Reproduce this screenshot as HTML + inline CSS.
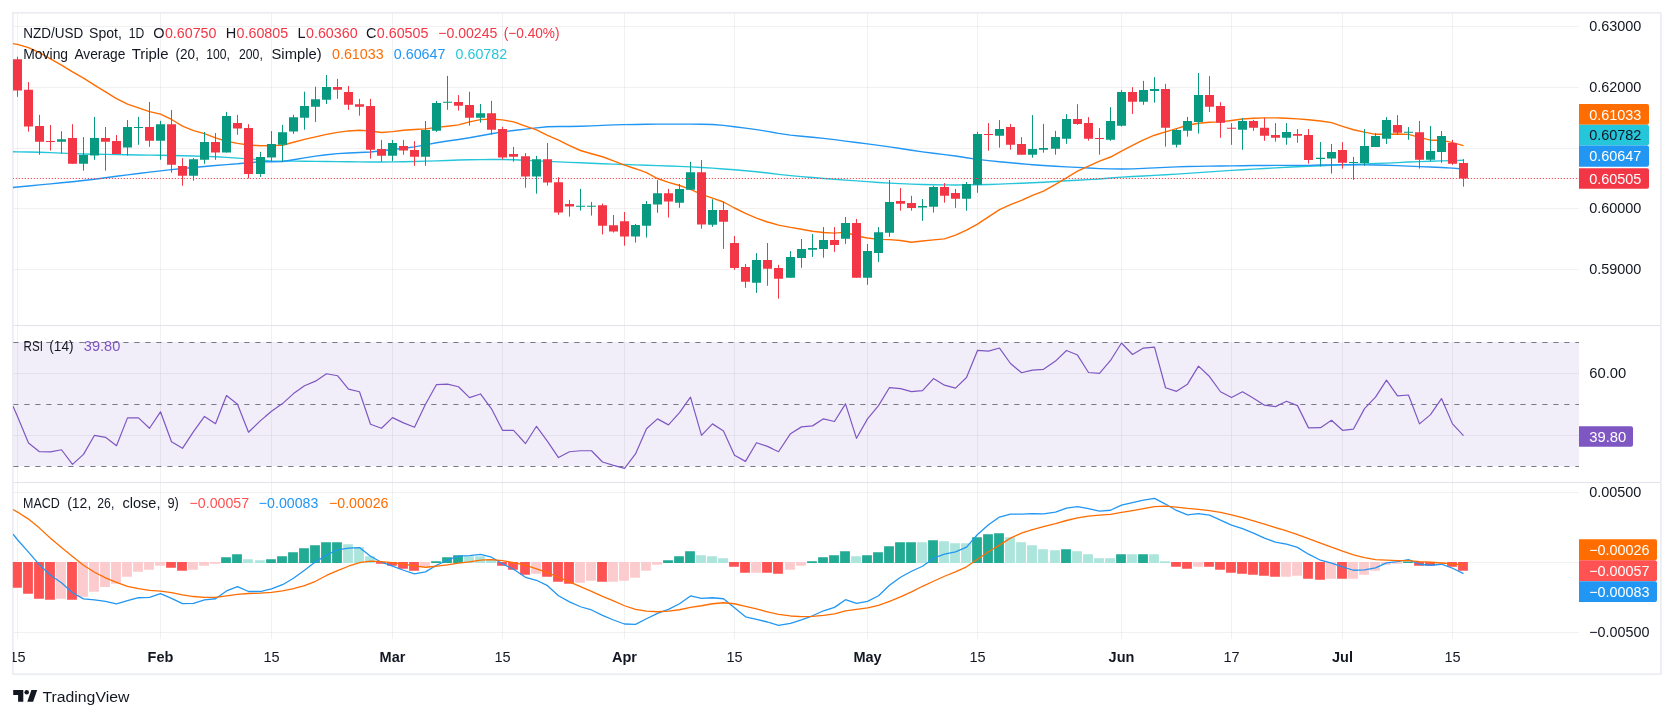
<!DOCTYPE html>
<html><head><meta charset="utf-8"><title>NZD/USD Chart</title>
<style>html,body{margin:0;padding:0;background:#fff}svg{display:block}</style></head>
<body>
<svg width="1674" height="718" viewBox="0 0 1674 718" font-family="'Liberation Sans', sans-serif">
<rect width="1674" height="718" fill="#fff"/>
<g opacity="0.999">
<defs><clipPath id="plot"><rect x="12.8" y="12.8" width="1566.2" height="661.4"/></clipPath></defs>
<rect x="12.8" y="342" width="1566.2" height="124.2" fill="#f2eef9"/>
<path d="M17.5 12.8 V639 M160.5 12.8 V639 M271.5 12.8 V639 M392.5 12.8 V639 M502.5 12.8 V639 M624.5 12.8 V639 M734.5 12.8 V639 M867.5 12.8 V639 M977.5 12.8 V639 M1121.5 12.8 V639 M1231.5 12.8 V639 M1342.5 12.8 V639 M1452.5 12.8 V639 M12.8 26.5 H1579 M12.8 87.5 H1579 M12.8 148.5 H1579 M12.8 208.5 H1579 M12.8 269.5 H1579 M12.8 373.5 H1579 M12.8 435.5 H1579 M12.8 492.5 H1579 M12.8 562.5 H1579 M12.8 632.5 H1579" stroke="#2a2e39" stroke-opacity="0.065" stroke-width="1" fill="none"/>
<path d="M12.8 325.5 H1660.9 M12.8 482.5 H1660.9" stroke="#e0e3eb" stroke-width="1" fill="none"/>
<rect x="12.8" y="12.8" width="1648.1" height="661.4" fill="none" stroke="#ebedf3" stroke-width="1.7"/>
<g clip-path="url(#plot)">
<path d="M13.3 342.5 H1579" stroke="#787b86" stroke-width="1" stroke-dasharray="5.2 5.8" fill="none"/>
<path d="M13.3 404.5 H1579" stroke="#787b86" stroke-width="1" stroke-dasharray="5.2 5.8" fill="none"/>
<path d="M13.3 466.5 H1579" stroke="#787b86" stroke-width="1" stroke-dasharray="5.2 5.8" fill="none"/>
<path d="M12.8 151.77 L17.5 151.84 L28.5 152.03 L39.5 152.28 L50.5 152.65 L61.5 153.12 L72.5 153.59 L83.5 153.96 L94.5 154.21 L105.5 154.42 L116.5 154.61 L127.5 154.79 L138.5 154.96 L149.5 155.11 L160.5 155.27 L171.5 155.46 L182.5 155.71 L193.5 156.01 L204.5 156.37 L215.5 156.8 L226.5 157.4 L237.5 158.14 L248.5 158.86 L260.5 159.82 L271.5 161.16 L282.5 161.16 L293.5 161.16 L304.5 161.22 L315.5 161.36 L326.5 161.53 L337.5 161.66 L348.5 161.77 L359.5 161.88 L370.5 161.96 L381.5 162 L392.5 161.91 L403.5 161.7 L414.5 161.43 L425.5 161.16 L436.5 160.83 L447.5 160.44 L458.5 160.07 L469.5 159.82 L480.5 159.66 L491.5 159.54 L502.5 159.49 L513.5 159.76 L525.5 160.32 L536.5 160.85 L547.5 161.4 L558.5 161.88 L569.5 162.35 L580.5 162.81 L591.5 163.25 L602.5 163.68 L613.5 164.11 L624.5 164.53 L635.5 164.92 L646.5 165.27 L657.5 165.62 L668.5 165.99 L679.5 166.4 L690.5 166.87 L701.5 167.46 L712.5 168.16 L723.5 168.96 L734.5 169.8 L745.5 170.72 L756.5 171.76 L767.5 172.93 L778.5 174.32 L790.5 175.64 L801.5 176.65 L812.5 177.57 L823.5 178.45 L834.5 179.29 L845.5 180.09 L856.5 180.87 L867.5 181.67 L878.5 182.46 L889.5 183.12 L900.5 183.67 L911.5 184.14 L922.5 184.47 L933.5 184.71 L944.5 184.89 L955.5 184.97 L966.5 184.92 L977.5 184.8 L988.5 184.54 L999.5 184.09 L1010.5 183.63 L1021.5 183.22 L1032.5 182.8 L1043.5 182.29 L1055.5 181.54 L1066.5 180.79 L1077.5 180.19 L1088.5 179.61 L1099.5 178.95 L1110.5 178 L1121.5 177.08 L1132.5 176.46 L1143.5 175.95 L1154.5 175.4 L1165.5 174.77 L1176.5 174.1 L1187.5 173.4 L1198.5 172.66 L1209.5 171.89 L1220.5 171.12 L1231.5 170.39 L1242.5 169.73 L1253.5 169.09 L1264.5 168.48 L1275.5 167.88 L1286.5 167.29 L1297.5 166.72 L1308.5 166.21 L1320.5 165.75 L1331.5 165.32 L1342.5 164.88 L1353.5 164.44 L1364.5 164 L1375.5 163.56 L1386.5 163.1 L1397.5 162.59 L1408.5 162.05 L1419.5 161.59 L1430.5 161.23 L1441.5 160.91 L1452.5 160.59 L1463.5 160.25" stroke="#26c6da" stroke-width="1.4" fill="none" stroke-linejoin="round"/>
<path d="M12.8 187.46 L17.5 187.01 L28.5 185.96 L39.5 184.9 L50.5 183.84 L61.5 182.8 L72.5 181.72 L83.5 180.55 L94.5 179.22 L105.5 177.76 L116.5 176.28 L127.5 174.86 L138.5 173.5 L149.5 172.16 L160.5 170.88 L171.5 169.67 L182.5 168.54 L193.5 167.46 L204.5 166.44 L215.5 165.49 L226.5 164.65 L237.5 163.82 L248.5 162.68 L260.5 161.82 L271.5 161.74 L282.5 161.53 L293.5 159.81 L304.5 157.91 L315.5 156.1 L326.5 154.69 L337.5 153.63 L348.5 153.02 L359.5 152.57 L370.5 151.96 L381.5 150.82 L392.5 149.45 L403.5 148.27 L414.5 146.92 L425.5 144.91 L436.5 142.75 L447.5 141.03 L458.5 139.44 L469.5 137.76 L480.5 135.78 L491.5 133.7 L502.5 131.89 L513.5 130.48 L525.5 129.14 L536.5 127.85 L547.5 126.77 L558.5 126.55 L569.5 126.43 L580.5 126.25 L591.5 125.87 L602.5 125.38 L613.5 124.91 L624.5 124.61 L635.5 124.43 L646.5 124.27 L657.5 124.17 L668.5 124.13 L679.5 124.13 L690.5 124.13 L701.5 124.24 L712.5 124.53 L723.5 125.34 L734.5 126.8 L745.5 128.18 L756.5 129.66 L767.5 131.35 L778.5 133.36 L790.5 135.1 L801.5 136.23 L812.5 137.22 L823.5 138.34 L834.5 139.66 L845.5 141.08 L856.5 142.52 L867.5 143.93 L878.5 145.33 L889.5 146.82 L900.5 148.48 L911.5 150.23 L922.5 151.87 L933.5 153.28 L944.5 154.61 L955.5 156.03 L966.5 157.74 L977.5 159.37 L988.5 160.61 L999.5 161.7 L1010.5 162.72 L1021.5 163.75 L1032.5 164.73 L1043.5 165.57 L1055.5 166.28 L1066.5 166.85 L1077.5 167.41 L1088.5 168.06 L1099.5 168.58 L1110.5 168.9 L1121.5 169.06 L1132.5 168.84 L1143.5 168.37 L1154.5 167.88 L1165.5 167.4 L1176.5 166.91 L1187.5 166.55 L1198.5 166.33 L1209.5 166.16 L1220.5 166.02 L1231.5 165.88 L1242.5 165.72 L1253.5 165.56 L1264.5 165.43 L1275.5 165.38 L1286.5 165.38 L1297.5 165.38 L1308.5 165.38 L1320.5 164.93 L1331.5 164.84 L1342.5 164.79 L1353.5 164.77 L1364.5 164.84 L1375.5 165.03 L1386.5 165.27 L1397.5 165.62 L1408.5 166.1 L1419.5 166.61 L1430.5 167.06 L1441.5 167.53 L1452.5 168.1 L1463.5 168.95" stroke="#2196f3" stroke-width="1.4" fill="none" stroke-linejoin="round"/>
<path d="M12.8 43.6 L17.5 44.42 L28.5 47.55 L39.5 52.56 L50.5 58.89 L61.5 65.16 L72.5 71.82 L83.5 78.16 L94.5 85.16 L105.5 91.83 L116.5 98.59 L127.5 104.08 L138.5 107.8 L149.5 111.63 L160.5 114.13 L171.5 119.48 L182.5 126.15 L193.5 130.65 L204.5 133.7 L215.5 137.87 L226.5 141.24 L237.5 143.37 L248.5 145.04 L260.5 145.71 L271.5 145.6 L282.5 145.26 L293.5 142.25 L304.5 139.44 L315.5 136.84 L326.5 134.36 L337.5 132.38 L348.5 130.93 L359.5 130.22 L370.5 131.05 L381.5 132.56 L392.5 131.6 L403.5 130.22 L414.5 129.57 L425.5 128.87 L436.5 127.37 L447.5 126.24 L458.5 124.87 L469.5 121.87 L480.5 119.67 L491.5 119.01 L502.5 119.84 L513.5 121.83 L525.5 126.05 L536.5 129.9 L547.5 135.36 L558.5 140.05 L569.5 145.57 L580.5 150.51 L591.5 153.71 L602.5 156.77 L613.5 160.85 L624.5 165.11 L635.5 168.71 L646.5 172.67 L657.5 178.51 L668.5 182.34 L679.5 185.51 L690.5 189.34 L701.5 194.34 L712.5 198.09 L723.5 202.01 L734.5 208 L745.5 213.39 L756.5 218.09 L767.5 221.98 L778.5 225.1 L790.5 227.43 L801.5 229.3 L812.5 231.31 L823.5 232.55 L834.5 233.15 L845.5 232.15 L856.5 235.98 L867.5 237.99 L878.5 239.34 L889.5 239.67 L900.5 240.51 L911.5 242.19 L922.5 241.01 L933.5 239.84 L944.5 238.85 L955.5 235.19 L966.5 230.2 L977.5 224.12 L988.5 216.8 L999.5 209.56 L1010.5 204.56 L1021.5 200.32 L1032.5 195.32 L1043.5 191.15 L1055.5 184.39 L1066.5 177.82 L1077.5 171.06 L1088.5 166.06 L1099.5 161.06 L1110.5 157.03 L1121.5 151.11 L1132.5 145.28 L1143.5 139.78 L1154.5 135.22 L1165.5 131.89 L1176.5 128.56 L1187.5 125.23 L1198.5 123.23 L1209.5 122.22 L1220.5 121.89 L1231.5 120.55 L1242.5 119.05 L1253.5 118.2 L1264.5 117.87 L1275.5 117.87 L1286.5 118.21 L1297.5 118.87 L1308.5 119.72 L1320.5 121.06 L1331.5 122.64 L1342.5 126.44 L1353.5 129.78 L1364.5 132.12 L1375.5 134.32 L1386.5 134.32 L1397.5 133.99 L1408.5 134.33 L1419.5 137.33 L1430.5 140.18 L1441.5 140.18 L1452.5 142.65 L1463.5 145.7" stroke="#ff6d00" stroke-width="1.4" fill="none" stroke-linejoin="round"/>
<path d="M61.5 131.2 V153.5 M83.5 137.1 V170.7 M94.5 116.9 V159.8 M127.5 120 V155.6 M138.5 116.9 V144.8 M160.5 120.8 V159.8 M193.5 158.1 V180.7 M204.5 132 V163.8 M226.5 111.9 V152.6 M260.5 151.8 V176.9 M271.5 131.1 V161.7 M282.5 124.9 V161.7 M293.5 114.8 V133.9 M304.5 91.7 V129.7 M315.5 86.7 V121.9 M326.5 75 V104 M392.5 139.9 V161.2 M425.5 121 V165.8 M436.5 100.9 V131.9 M447.5 75.9 V109.8 M480.5 104 V122.7 M536.5 155.9 V193.6 M580.5 188.9 V210.6 M591.5 201.9 V215.6 M635.5 224 V242.6 M646.5 201.1 V237.6 M657.5 180.2 V212.8 M679.5 184 V207.8 M690.5 161.8 V189.7 M712.5 199.2 V226.8 M756.5 253.1 V292.9 M790.5 251.1 V277.8 M801.5 239 V267.8 M812.5 234 V256.9 M823.5 227.1 V257.7 M845.5 217.1 V243.9 M867.5 244 V284.8 M878.5 227.1 V261.9 M889.5 180 V236.8 M922.5 199 V220.9 M933.5 185.8 V212.6 M966.5 182 V210.7 M977.5 131.8 V192.8 M999.5 120.1 V147.7 M1032.5 115.1 V157.7 M1043.5 123.9 V152.7 M1055.5 130.9 V154.7 M1066.5 114.1 V143.8 M1110.5 107.2 V140.8 M1121.5 90.1 V126.6 M1143.5 80.9 V104.8 M1154.5 77.1 V102.7 M1176.5 129.1 V147.5 M1187.5 116.9 V136.6 M1198.5 73 V133.6 M1242.5 118 V149.8 M1286.5 123.1 V144.8 M1320.5 142 V166.5 M1331.5 144 V173.6 M1353.5 156.9 V179.8 M1364.5 129 V165.8 M1375.5 133.2 V146.9 M1386.5 117.1 V143.9 M1408.5 127.1 V139.8 M1430.5 126 V161.1 M1441.5 131 V162.8" stroke="#089981" stroke-width="1" fill="none"/>
<path d="M17.5 56.7 V96.9 M28.5 82.1 V131.7 M39.5 114.9 V154.8 M50.5 125 V150.6 M72.5 124.2 V163.8 M105.5 127 V170.7 M116.5 135.1 V154 M149.5 101.9 V146.8 M171.5 109.9 V172.7 M182.5 158.1 V185.7 M215.5 133 V159.8 M237.5 114.9 V134.7 M248.5 124.2 V178.5 M337.5 78.9 V98.8 M348.5 85.9 V109.8 M359.5 98.9 V115.7 M370.5 98.9 V158.6 M381.5 139.9 V161.7 M403.5 139.9 V154.8 M414.5 141.1 V165.8 M458.5 95.1 V110.6 M469.5 91.7 V125.7 M491.5 100.9 V134.7 M502.5 126.9 V159.5 M513.5 146.9 V161.7 M525.5 153.1 V187.7 M547.5 143 V185.5 M558.5 177.3 V214.8 M569.5 199.9 V216.6 M602.5 203.6 V234.5 M613.5 215 V232.5 M624.5 212 V245.7 M668.5 188.9 V217.5 M701.5 160.1 V228.7 M723.5 201.7 V248.9 M734.5 236 V269.8 M745.5 263.9 V287.8 M767.5 243 V285.8 M778.5 264.9 V298.7 M834.5 227.1 V251.9 M856.5 218.9 V277.8 M900.5 188.1 V210.7 M911.5 195.8 V210.7 M944.5 183.1 V202.7 M955.5 189 V207.9 M988.5 123.1 V150.7 M1010.5 123.9 V149.7 M1021.5 137.1 V154.7 M1077.5 104.2 V124.8 M1088.5 117.1 V140.6 M1099.5 128.1 V154.7 M1132.5 87.1 V113.9 M1165.5 83.9 V146.6 M1209.5 76.1 V111.9 M1220.5 102.2 V137.8 M1231.5 123.1 V144.8 M1253.5 119.9 V130.8 M1264.5 118 V140.8 M1275.5 123.1 V141.6 M1297.5 129.1 V142.8 M1308.5 129.1 V163.7 M1342.5 142.2 V168.6 M1397.5 115.1 V134.8 M1419.5 120.9 V168.6 M1452.5 139.8 V164.8 M1463.5 159.1 V186.7" stroke="#f23645" stroke-width="1" fill="none"/>
<path d="M57 139.2h9v2.5h-9z M79 155.1h9v8.7h-9z M90 138.1h9v17.5h-9z M123 127h9v20.6h-9z M134 127h9v1h-9z M156 124.2h9v16.5h-9z M189 159.3h9v16.4h-9z M200 142.1h9v17.7h-9z M222 116.1h9v36.5h-9z M256 157.1h9v16.8h-9z M267 144.1h9v13.4h-9z M278 132.2h9v12.6h-9z M289 117.2h9v14.4h-9z M300 106h9v11.7h-9z M311 99.3h9v7.5h-9z M322 87.1h9v12.7h-9z M388 143.1h9v12.7h-9z M421 129.9h9v26.9h-9z M432 103.1h9v27.6h-9z M443 101.8h9v1h-9z M476 113.2h9v4.5h-9z M532 159.3h9v17.2h-9z M576 205.8h9v1h-9z M587 205.8h9v1h-9z M631 225h9v11.5h-9z M642 204.1h9v21.6h-9z M653 193.2h9v11.2h-9z M675 189h9v13.8h-9z M686 172.2h9v17.5h-9z M708 210.1h9v14.7h-9z M752 259.9h9v22.9h-9z M786 256.9h9v20.9h-9z M797 249h9v8.9h-9z M808 248h9v1.7h-9z M819 240h9v8.9h-9z M841 223h9v15.8h-9z M863 251.1h9v26.7h-9z M874 232.2h9v20.7h-9z M885 202h9v30.8h-9z M918 205.9h9v1.7h-9z M929 187h9v19.7h-9z M962 184.1h9v14.6h-9z M973 134h9v50.8h-9z M995 129.1h9v6.7h-9z M1028 149h9v5.7h-9z M1039 148h9v1.7h-9z M1051 137.1h9v11.7h-9z M1062 119.1h9v19.7h-9z M1106 121.1h9v18.7h-9z M1117 92.1h9v33.6h-9z M1139 90.1h9v11.7h-9z M1150 88.9h9v2h-9z M1172 129.9h9v14.9h-9z M1183 121.1h9v9.7h-9z M1194 95.1h9v26.8h-9z M1238 121.1h9v8.6h-9z M1282 131.9h9v5.9h-9z M1316 157.8h9v1.1h-9z M1327 151.9h9v6.7h-9z M1349 161.9h9v1h-9z M1360 146h9v16.9h-9z M1371 136h9v10.9h-9z M1382 120.1h9v18.7h-9z M1404 131.8h9v1h-9z M1426 151.1h9v8.6h-9z M1437 136h9v15.9h-9z" fill="#089981"/>
<path d="M13 59.2h9v31.3h-9z M24 89.8h9v36.8h-9z M35 126.1h9v15.6h-9z M46 140.9h9v1h-9z M68 138.1h9v25.7h-9z M101 138.1h9v3.6h-9z M112 141.1h9v12.9h-9z M145 127h9v13.7h-9z M167 124.2h9v40.6h-9z M178 166h9v9.7h-9z M211 142.1h9v10.5h-9z M233 123.1h9v5.5h-9z M244 128h9v45.9h-9z M333 87.1h9v2.6h-9z M344 92.1h9v12.7h-9z M355 104.3h9v2.5h-9z M366 106h9v43.8h-9z M377 149.1h9v6.7h-9z M399 146.1h9v4.5h-9z M410 150h9v6.8h-9z M454 102.1h9v3.7h-9z M465 105.1h9v12.6h-9z M487 113.2h9v16.5h-9z M498 129h9v28.6h-9z M509 154.1h9v2.7h-9z M521 156.3h9v20.2h-9z M543 159.3h9v23.1h-9z M554 182.2h9v30.3h-9z M565 204.1h9v2.5h-9z M598 205.3h9v20.4h-9z M609 225.3h9v6.2h-9z M620 221.2h9v15.3h-9z M664 193.2h9v8.4h-9z M697 172.2h9v52.3h-9z M719 210.1h9v11.7h-9z M730 243h9v25.1h-9z M741 266.9h9v14.9h-9z M763 259.9h9v8.9h-9z M774 267.9h9v10.9h-9z M830 240h9v4.9h-9z M852 223h9v54.8h-9z M896 200.9h9v2.8h-9z M907 202.9h9v5h-9z M940 187h9v8.7h-9z M951 193h9v5.7h-9z M984 134h9v1h-9z M1006 127.1h9v17.7h-9z M1017 144h9v10.7h-9z M1073 119.1h9v4.8h-9z M1084 123.1h9v15.7h-9z M1095 138h9v1h-9z M1128 92.1h9v9.7h-9z M1161 88.9h9v38.8h-9z M1205 95.1h9v11.7h-9z M1216 106h9v16.7h-9z M1227 127.7h9v1h-9z M1249 121.1h9v6.6h-9z M1260 127.7h9v8.1h-9z M1271 134.9h9v2.9h-9z M1293 134.1h9v1.7h-9z M1304 134.9h9v25h-9z M1338 149.9h9v12.9h-9z M1393 125.1h9v7.7h-9z M1415 132.2h9v27.5h-9z M1448 143h9v20.8h-9z M1459 163.1h9v15.4h-9z" fill="#f23645"/>
<path d="M12.8 178.5 H1579" stroke="#f23645" stroke-width="1" stroke-dasharray="1.1 1.9" fill="none"/>
<path d="M13 406.22 L17.5 416.45 L28.5 442.93 L39.5 451.75 L50.5 451.95 L61.5 449.75 L72.5 464.39 L83.5 454.36 L94.5 435.3 L105.5 437.31 L116.5 445.73 L127.5 417.85 L138.5 417.85 L149.5 428.28 L160.5 411.83 L171.5 441.72 L182.5 448.34 L193.5 431.69 L204.5 416.45 L215.5 423.67 L226.5 395.58 L237.5 404.21 L248.5 432.29 L260.5 420.66 L271.5 411.23 L282.5 403.61 L293.5 393.58 L304.5 385.75 L315.5 381.14 L326.5 373.72 L337.5 375.72 L348.5 389.16 L359.5 391.77 L370.5 424.27 L381.5 428.28 L392.5 417.65 L403.5 422.87 L414.5 427.28 L425.5 404.21 L436.5 384.55 L447.5 384.15 L458.5 386.76 L469.5 397.59 L480.5 393.98 L491.5 408.82 L502.5 430.29 L513.5 430.29 L525.5 443.53 L536.5 426.28 L547.5 441.32 L558.5 457.57 L569.5 451.75 L580.5 450.75 L591.5 450.75 L602.5 461.98 L613.5 465.39 L624.5 468.4 L635.5 453.96 L646.5 428.68 L657.5 418.85 L668.5 424.87 L679.5 412.63 L690.5 397.19 L701.5 435.3 L712.5 423.87 L723.5 430.89 L734.5 455.16 L745.5 461.38 L756.5 442.72 L767.5 446.34 L778.5 451.75 L790.5 433.7 L801.5 426.88 L812.5 425.87 L823.5 418.85 L834.5 421.46 L845.5 403.81 L856.5 438.31 L867.5 418.85 L878.5 405.61 L889.5 387.56 L900.5 388.56 L911.5 391.57 L922.5 390.57 L933.5 378.53 L944.5 385.15 L955.5 388.16 L966.5 377.53 L977.5 350.45 L988.5 351.05 L999.5 348.04 L1010.5 363.49 L1021.5 372.72 L1032.5 370.11 L1043.5 369.31 L1055.5 361.08 L1066.5 350.45 L1077.5 355.06 L1088.5 372.51 L1099.5 373.32 L1110.5 360.48 L1121.5 343.03 L1132.5 354.46 L1143.5 348.04 L1154.5 347.04 L1165.5 387.76 L1176.5 391.37 L1187.5 384.15 L1198.5 366.1 L1209.5 376.53 L1220.5 391.77 L1231.5 397.59 L1242.5 391.77 L1253.5 398.19 L1264.5 405.21 L1275.5 406.62 L1286.5 401.2 L1297.5 405.61 L1308.5 427.88 L1320.5 427.68 L1331.5 420.26 L1342.5 430.29 L1353.5 429.08 L1364.5 408.62 L1375.5 397.19 L1386.5 380.14 L1397.5 395.78 L1408.5 394.98 L1419.5 423.87 L1430.5 414.64 L1441.5 398.59 L1452.5 423.87 L1463.5 435.7" stroke="#7e57c2" stroke-width="1.2" fill="none" stroke-linejoin="round"/>
<path d="M56.1 562h9.8v36.73h-9.8z M78.1 562h9.8v34.72h-9.8z M89.1 562h9.8v29.71h-9.8z M100.1 562h9.8v24.9h-9.8z M111.1 562h9.8v21.69h-9.8z M122.1 562h9.8v14.66h-9.8z M133.1 562h9.8v9.85h-9.8z M144.1 562h9.8v7.84h-9.8z M155.1 562h9.8v3.83h-9.8z M188.1 562h9.8v7.84h-9.8z M199.1 562h9.8v3.83h-9.8z M210.1 562h9.8v1.83h-9.8z M420.1 562h9.8v4.23h-9.8z M531.1 562h9.8v11.66h-9.8z M575.1 562h9.8v20.68h-9.8z M586.1 562h9.8v18.68h-9.8z M608.1 562h9.8v19.68h-9.8z M619.1 562h9.8v18.68h-9.8z M630.1 562h9.8v15.67h-9.8z M641.1 562h9.8v8.65h-9.8z M652.1 562h9.8v2.63h-9.8z M751.1 562h9.8v10.65h-9.8z M785.1 562h9.8v7.84h-9.8z M796.1 562h9.8v3.83h-9.8z M1193.1 562h9.8v4.84h-9.8z M1281.1 562h9.8v14.66h-9.8z M1292.1 562h9.8v13.66h-9.8z M1326.1 562h9.8v16.67h-9.8z M1348.1 562h9.8v16.67h-9.8z M1359.1 562h9.8v12.66h-9.8z M1370.1 562h9.8v8.65h-9.8z M1381.1 562h9.8v2.83h-9.8z M1392.1 562h9.8v1.83h-9.8z M1436.1 562h9.8v1.43h-9.8z" fill="#fccbcd"/>
<path d="M243.1 559.21h9.8v3.79h-9.8z M255.1 560.22h9.8v2.78h-9.8z M343.1 544.17h9.8v18.83h-9.8z M354.1 547.18h9.8v15.82h-9.8z M365.1 556.2h9.8v6.8h-9.8z M464.1 556.2h9.8v6.8h-9.8z M475.1 556.2h9.8v6.8h-9.8z M486.1 559.21h9.8v3.79h-9.8z M696.1 555.2h9.8v7.8h-9.8z M707.1 556.2h9.8v6.8h-9.8z M718.1 558.21h9.8v4.79h-9.8z M851.1 556.2h9.8v6.8h-9.8z M917.1 542.16h9.8v20.84h-9.8z M939.1 541.16h9.8v21.84h-9.8z M950.1 543.16h9.8v19.84h-9.8z M961.1 543.16h9.8v19.84h-9.8z M1005.1 537.15h9.8v25.85h-9.8z M1016.1 542.16h9.8v20.84h-9.8z M1027.1 545.17h9.8v17.83h-9.8z M1038.1 549.18h9.8v13.82h-9.8z M1050.1 550.19h9.8v12.81h-9.8z M1072.1 551.19h9.8v11.81h-9.8z M1083.1 554.2h9.8v8.8h-9.8z M1094.1 558.21h9.8v4.79h-9.8z M1105.1 558.21h9.8v4.79h-9.8z M1127.1 554.2h9.8v8.8h-9.8z M1149.1 554.2h9.8v8.8h-9.8z M1160.1 561.22h9.8v1.78h-9.8z" fill="#ace5dc"/>
<path d="M12.1 562h9.8v25.7h-9.8z M23.1 562h9.8v31.72h-9.8z M34.1 562h9.8v36.73h-9.8z M45.1 562h9.8v37.73h-9.8z M67.1 562h9.8v37.73h-9.8z M166.1 562h9.8v5.84h-9.8z M177.1 562h9.8v8.85h-9.8z M376.1 562h9.8v1.83h-9.8z M387.1 562h9.8v3.83h-9.8z M398.1 562h9.8v6.84h-9.8z M409.1 562h9.8v8.65h-9.8z M497.1 562h9.8v3.83h-9.8z M508.1 562h9.8v7.84h-9.8z M520.1 562h9.8v12.66h-9.8z M542.1 562h9.8v14.66h-9.8z M553.1 562h9.8v19.68h-9.8z M564.1 562h9.8v21.69h-9.8z M597.1 562h9.8v19.68h-9.8z M729.1 562h9.8v4.84h-9.8z M740.1 562h9.8v10.65h-9.8z M762.1 562h9.8v10.65h-9.8z M773.1 562h9.8v11.66h-9.8z M1171.1 562h9.8v4.84h-9.8z M1182.1 562h9.8v6.84h-9.8z M1204.1 562h9.8v4.84h-9.8z M1215.1 562h9.8v7.84h-9.8z M1226.1 562h9.8v10.65h-9.8z M1237.1 562h9.8v11.66h-9.8z M1248.1 562h9.8v12.66h-9.8z M1259.1 562h9.8v13.66h-9.8z M1270.1 562h9.8v14.66h-9.8z M1303.1 562h9.8v16.67h-9.8z M1315.1 562h9.8v17.67h-9.8z M1337.1 562h9.8v16.67h-9.8z M1414.1 562h9.8v3.83h-9.8z M1425.1 562h9.8v3.83h-9.8z M1447.1 562h9.8v4.84h-9.8z M1458.1 562h9.8v8.65h-9.8z" fill="#ff5252"/>
<path d="M221.1 557.21h9.8v5.79h-9.8z M232.1 554.2h9.8v8.8h-9.8z M266.1 559.21h9.8v3.79h-9.8z M277.1 556.2h9.8v6.8h-9.8z M288.1 552.19h9.8v10.81h-9.8z M299.1 548.18h9.8v14.82h-9.8z M310.1 545.17h9.8v17.83h-9.8z M321.1 542.16h9.8v20.84h-9.8z M332.1 542.16h9.8v20.84h-9.8z M431.1 561.22h9.8v1.78h-9.8z M442.1 557.21h9.8v5.79h-9.8z M453.1 555.2h9.8v7.8h-9.8z M663.1 560.22h9.8v2.78h-9.8z M674.1 556.2h9.8v6.8h-9.8z M685.1 551.19h9.8v11.81h-9.8z M807.1 561.22h9.8v1.78h-9.8z M818.1 557.21h9.8v5.79h-9.8z M829.1 555.2h9.8v7.8h-9.8z M840.1 551.19h9.8v11.81h-9.8z M862.1 555.2h9.8v7.8h-9.8z M873.1 552.19h9.8v10.81h-9.8z M884.1 546.17h9.8v16.83h-9.8z M895.1 542.16h9.8v20.84h-9.8z M906.1 542.16h9.8v20.84h-9.8z M928.1 540.16h9.8v22.84h-9.8z M972.1 537.15h9.8v25.85h-9.8z M983.1 534.14h9.8v28.86h-9.8z M994.1 533.13h9.8v29.87h-9.8z M1061.1 549.18h9.8v13.82h-9.8z M1116.1 554.2h9.8v8.8h-9.8z M1138.1 554.2h9.8v8.8h-9.8z M1403.1 561.62h9.8v1.38h-9.8z" fill="#22ab94"/>
<path d="M13 534.14 L17.5 539.75 L28.5 552.19 L39.5 564.83 L50.5 575.26 L61.5 582.68 L72.5 592.71 L83.5 598.93 L94.5 599.93 L105.5 601.34 L116.5 603.95 L127.5 600.74 L138.5 597.73 L149.5 597.33 L160.5 593.72 L171.5 598.33 L182.5 603.54 L193.5 603.34 L204.5 599.93 L215.5 598.73 L226.5 590.91 L237.5 586.69 L248.5 591.51 L260.5 591.51 L271.5 588.9 L282.5 584.69 L293.5 578.27 L304.5 570.25 L315.5 561.82 L326.5 555.2 L337.5 549.78 L348.5 548.18 L359.5 547.58 L370.5 556.2 L381.5 562.22 L392.5 566.23 L403.5 570.25 L414.5 573.86 L425.5 571.85 L436.5 565.23 L447.5 560.22 L458.5 556.2 L469.5 555.6 L480.5 554.4 L491.5 557.21 L502.5 563.83 L513.5 569.24 L525.5 577.27 L536.5 580.28 L547.5 585.69 L558.5 595.72 L569.5 601.94 L580.5 606.75 L591.5 609.96 L602.5 615.38 L613.5 619.99 L624.5 624.01 L635.5 624.41 L646.5 618.79 L657.5 613.37 L668.5 609.36 L679.5 603.75 L690.5 595.92 L701.5 598.33 L712.5 597.73 L723.5 598.73 L734.5 607.76 L745.5 616.78 L756.5 619.39 L767.5 622 L778.5 625.41 L790.5 623.4 L801.5 619.79 L812.5 615.78 L823.5 610.77 L834.5 607.36 L845.5 599.73 L856.5 603.34 L867.5 601.34 L878.5 595.72 L889.5 585.29 L900.5 577.27 L911.5 571.25 L922.5 566.23 L933.5 558.21 L944.5 554.2 L955.5 551.79 L966.5 547.18 L977.5 534.54 L988.5 524.71 L999.5 517.09 L1010.5 514.08 L1021.5 514.08 L1032.5 513.68 L1043.5 513.88 L1055.5 512.07 L1066.5 508.06 L1077.5 506.66 L1088.5 508.66 L1099.5 511.07 L1110.5 510.27 L1121.5 505.05 L1132.5 502.64 L1143.5 500.04 L1154.5 498.43 L1165.5 504.05 L1176.5 510.47 L1187.5 514.88 L1198.5 513.68 L1209.5 515.08 L1220.5 520.1 L1231.5 525.11 L1242.5 528.72 L1253.5 533.13 L1264.5 538.15 L1275.5 542.16 L1286.5 544.17 L1297.5 547.38 L1308.5 554.2 L1320.5 560.22 L1331.5 563.22 L1342.5 566.84 L1353.5 570.25 L1364.5 569.84 L1375.5 567.84 L1386.5 562.82 L1397.5 561.62 L1408.5 559.61 L1419.5 564.23 L1430.5 565.23 L1441.5 564.23 L1452.5 568.24 L1463.5 573.66" stroke="#2196f3" stroke-width="1.3" fill="none" stroke-linejoin="round"/>
<path d="M13 509.46 L17.5 512.07 L28.5 519.09 L39.5 528.12 L50.5 538.15 L61.5 547.58 L72.5 556.6 L83.5 565.23 L94.5 572.25 L105.5 577.87 L116.5 582.28 L127.5 586.29 L138.5 588.7 L149.5 590.31 L160.5 591.11 L171.5 592.71 L182.5 594.92 L193.5 596.52 L204.5 597.33 L215.5 597.33 L226.5 595.92 L237.5 594.32 L248.5 593.51 L260.5 593.11 L271.5 592.31 L282.5 590.91 L293.5 588.7 L304.5 585.69 L315.5 581.28 L326.5 575.46 L337.5 570.65 L348.5 566.23 L359.5 562.62 L370.5 561.22 L381.5 561.62 L392.5 562.62 L403.5 564.23 L414.5 565.83 L425.5 567.24 L436.5 566.23 L447.5 564.83 L458.5 563.22 L469.5 561.82 L480.5 560.22 L491.5 559.61 L502.5 560.62 L513.5 562.62 L525.5 565.23 L536.5 568.84 L547.5 572.65 L558.5 577.27 L569.5 581.88 L580.5 586.69 L591.5 591.31 L602.5 596.32 L613.5 600.94 L624.5 605.75 L635.5 609.36 L646.5 611.17 L657.5 611.77 L668.5 611.17 L679.5 609.76 L690.5 607.36 L701.5 605.75 L712.5 603.75 L723.5 602.74 L734.5 603.75 L745.5 606.35 L756.5 608.96 L767.5 611.77 L778.5 614.38 L790.5 615.98 L801.5 616.58 L812.5 616.38 L823.5 615.38 L834.5 613.78 L845.5 610.97 L856.5 609.36 L867.5 607.96 L878.5 605.35 L889.5 601.34 L900.5 596.93 L911.5 591.91 L922.5 586.29 L933.5 581.28 L944.5 576.26 L955.5 571.85 L966.5 566.84 L977.5 559.21 L988.5 551.79 L999.5 545.17 L1010.5 538.15 L1021.5 533.13 L1032.5 529.52 L1043.5 526.51 L1055.5 523.51 L1066.5 520.5 L1077.5 517.89 L1088.5 516.08 L1099.5 515.08 L1110.5 514.28 L1121.5 512.47 L1132.5 510.67 L1143.5 508.66 L1154.5 506.66 L1165.5 506.05 L1176.5 507.06 L1187.5 508.46 L1198.5 509.46 L1209.5 510.67 L1220.5 512.47 L1231.5 514.88 L1242.5 517.69 L1253.5 520.9 L1264.5 524.11 L1275.5 527.52 L1286.5 530.93 L1297.5 534.54 L1308.5 538.55 L1320.5 543.16 L1331.5 547.18 L1342.5 551.19 L1353.5 554.8 L1364.5 557.61 L1375.5 559.61 L1386.5 560.22 L1397.5 560.62 L1408.5 560.62 L1419.5 561.62 L1430.5 562.22 L1441.5 563.02 L1452.5 563.83 L1463.5 565.23" stroke="#ff6d00" stroke-width="1.3" fill="none" stroke-linejoin="round"/>
</g>
<text x="23.3" y="37.9" fill="#131722" font-size="14.5" font-weight="normal" text-anchor="start" textLength="60" lengthAdjust="spacingAndGlyphs">NZD/USD</text>
<text x="89.1" y="37.9" fill="#131722" font-size="14.5" font-weight="normal" text-anchor="start" textLength="32.8" lengthAdjust="spacingAndGlyphs">Spot,</text>
<text x="128.8" y="37.9" fill="#131722" font-size="14.5" font-weight="normal" text-anchor="start" textLength="15.5" lengthAdjust="spacingAndGlyphs">1D</text>
<text x="164.5" y="37.9" fill="#131722" font-size="14.5" font-weight="normal" text-anchor="end">O</text>
<text x="164.9" y="37.9" fill="#f23645" font-size="14.5" font-weight="normal" text-anchor="start" textLength="51.6" lengthAdjust="spacingAndGlyphs">0.60750</text>
<text x="236.2" y="37.9" fill="#131722" font-size="14.5" font-weight="normal" text-anchor="end">H</text>
<text x="236.6" y="37.9" fill="#f23645" font-size="14.5" font-weight="normal" text-anchor="start" textLength="51.6" lengthAdjust="spacingAndGlyphs">0.60805</text>
<text x="305.6" y="37.9" fill="#131722" font-size="14.5" font-weight="normal" text-anchor="end">L</text>
<text x="306" y="37.9" fill="#f23645" font-size="14.5" font-weight="normal" text-anchor="start" textLength="51.6" lengthAdjust="spacingAndGlyphs">0.60360</text>
<text x="376.4" y="37.9" fill="#131722" font-size="14.5" font-weight="normal" text-anchor="end">C</text>
<text x="376.8" y="37.9" fill="#f23645" font-size="14.5" font-weight="normal" text-anchor="start" textLength="51.6" lengthAdjust="spacingAndGlyphs">0.60505</text>
<text x="438.2" y="37.9" fill="#f23645" font-size="14.5" font-weight="normal" text-anchor="start" textLength="59.2" lengthAdjust="spacingAndGlyphs">−0.00245</text>
<text x="503.7" y="37.9" fill="#f23645" font-size="14.5" font-weight="normal" text-anchor="start" textLength="55.9" lengthAdjust="spacingAndGlyphs">(−0.40%)</text>
<text x="23.3" y="58.7" fill="#131722" font-size="14.5" font-weight="normal" text-anchor="start" textLength="44.8" lengthAdjust="spacingAndGlyphs">Moving</text>
<text x="74.4" y="58.7" fill="#131722" font-size="14.5" font-weight="normal" text-anchor="start" textLength="51" lengthAdjust="spacingAndGlyphs">Average</text>
<text x="131.7" y="58.7" fill="#131722" font-size="14.5" font-weight="normal" text-anchor="start" textLength="36.8" lengthAdjust="spacingAndGlyphs">Triple</text>
<text x="175.6" y="58.7" fill="#131722" font-size="14.5" font-weight="normal" text-anchor="start" textLength="23.3" lengthAdjust="spacingAndGlyphs">(20,</text>
<text x="206.2" y="58.7" fill="#131722" font-size="14.5" font-weight="normal" text-anchor="start" textLength="23.6" lengthAdjust="spacingAndGlyphs">100,</text>
<text x="239" y="58.7" fill="#131722" font-size="14.5" font-weight="normal" text-anchor="start" textLength="23.8" lengthAdjust="spacingAndGlyphs">200,</text>
<text x="271.5" y="58.7" fill="#131722" font-size="14.5" font-weight="normal" text-anchor="start" textLength="50.1" lengthAdjust="spacingAndGlyphs">Simple)</text>
<text x="332" y="58.7" fill="#ff6d00" font-size="14.5" font-weight="normal" text-anchor="start" textLength="51.6" lengthAdjust="spacingAndGlyphs">0.61033</text>
<text x="393.8" y="58.7" fill="#2196f3" font-size="14.5" font-weight="normal" text-anchor="start" textLength="51.6" lengthAdjust="spacingAndGlyphs">0.60647</text>
<text x="455.6" y="58.7" fill="#26c6da" font-size="14.5" font-weight="normal" text-anchor="start" textLength="51.6" lengthAdjust="spacingAndGlyphs">0.60782</text>
<text x="23.6" y="350.9" fill="#131722" font-size="14.5" font-weight="normal" text-anchor="start" textLength="19.3" lengthAdjust="spacingAndGlyphs">RSI</text>
<text x="49.3" y="350.9" fill="#131722" font-size="14.5" font-weight="normal" text-anchor="start" textLength="24.2" lengthAdjust="spacingAndGlyphs">(14)</text>
<text x="83.8" y="350.9" fill="#7e57c2" font-size="14.5" font-weight="normal" text-anchor="start" textLength="36.5" lengthAdjust="spacingAndGlyphs">39.80</text>
<text x="23.1" y="508" fill="#131722" font-size="14.5" font-weight="normal" text-anchor="start" textLength="36.7" lengthAdjust="spacingAndGlyphs">MACD</text>
<text x="67.2" y="508" fill="#131722" font-size="14.5" font-weight="normal" text-anchor="start" textLength="24.1" lengthAdjust="spacingAndGlyphs">(12,</text>
<text x="97.3" y="508" fill="#131722" font-size="14.5" font-weight="normal" text-anchor="start" textLength="17" lengthAdjust="spacingAndGlyphs">26,</text>
<text x="122.4" y="508" fill="#131722" font-size="14.5" font-weight="normal" text-anchor="start" textLength="38.1" lengthAdjust="spacingAndGlyphs">close,</text>
<text x="167.5" y="508" fill="#131722" font-size="14.5" font-weight="normal" text-anchor="start" textLength="11.4" lengthAdjust="spacingAndGlyphs">9)</text>
<text x="189.6" y="508" fill="#ff5252" font-size="14.5" font-weight="normal" text-anchor="start" textLength="59.5" lengthAdjust="spacingAndGlyphs">−0.00057</text>
<text x="258.8" y="508" fill="#2196f3" font-size="14.5" font-weight="normal" text-anchor="start" textLength="59.5" lengthAdjust="spacingAndGlyphs">−0.00083</text>
<text x="329" y="508" fill="#ff6d00" font-size="14.5" font-weight="normal" text-anchor="start" textLength="59.5" lengthAdjust="spacingAndGlyphs">−0.00026</text>
<text x="1589.2" y="31.1" fill="#131722" font-size="14.5" font-weight="normal" text-anchor="start" textLength="52.2" lengthAdjust="spacingAndGlyphs">0.63000</text>
<text x="1589.2" y="92.1" fill="#131722" font-size="14.5" font-weight="normal" text-anchor="start" textLength="52.2" lengthAdjust="spacingAndGlyphs">0.62000</text>
<text x="1589.2" y="213.1" fill="#131722" font-size="14.5" font-weight="normal" text-anchor="start" textLength="52.2" lengthAdjust="spacingAndGlyphs">0.60000</text>
<text x="1589.2" y="274.1" fill="#131722" font-size="14.5" font-weight="normal" text-anchor="start" textLength="52.2" lengthAdjust="spacingAndGlyphs">0.59000</text>
<text x="1589.2" y="378.1" fill="#131722" font-size="14.5" font-weight="normal" text-anchor="start" textLength="37" lengthAdjust="spacingAndGlyphs">60.00</text>
<text x="1589.2" y="497.1" fill="#131722" font-size="14.5" font-weight="normal" text-anchor="start" textLength="52.2" lengthAdjust="spacingAndGlyphs">0.00500</text>
<text x="1589.2" y="637.1" fill="#131722" font-size="14.5" font-weight="normal" text-anchor="start" textLength="60.3" lengthAdjust="spacingAndGlyphs">−0.00500</text>
<path d="M1579 104.1h68q2 0 2 2v16.6q0 2 -2 2h-68z" fill="#ff6d00"/>
<text x="1589.2" y="119.7" fill="#fff" font-size="14.5" font-weight="normal" text-anchor="start" textLength="52.2" lengthAdjust="spacingAndGlyphs">0.61033</text>
<path d="M1579 124.7h68q2 0 2 2v16.9q0 2 -2 2h-68z" fill="#26c6da"/>
<text x="1589.2" y="140.45" fill="#131722" font-size="14.5" font-weight="normal" text-anchor="start" textLength="52.2" lengthAdjust="spacingAndGlyphs">0.60782</text>
<path d="M1579 145.6h68q2 0 2 2v17.1q0 2 -2 2h-68z" fill="#2196f3"/>
<text x="1589.2" y="161.45" fill="#fff" font-size="14.5" font-weight="normal" text-anchor="start" textLength="52.2" lengthAdjust="spacingAndGlyphs">0.60647</text>
<path d="M1579 168.3h68q2 0 2 2v16.4q0 2 -2 2h-68z" fill="#f23645"/>
<text x="1589.2" y="183.8" fill="#fff" font-size="14.5" font-weight="normal" text-anchor="start" textLength="52.2" lengthAdjust="spacingAndGlyphs">0.60505</text>
<path d="M1579 426.3h52q2 0 2 2v16.4q0 2 -2 2h-52z" fill="#7e57c2"/>
<text x="1589.2" y="441.8" fill="#fff" font-size="14.5" font-weight="normal" text-anchor="start" textLength="37" lengthAdjust="spacingAndGlyphs">39.80</text>
<path d="M1579 539.2h76q2 0 2 2v17q0 2 -2 2h-76z" fill="#ff6d00"/>
<text x="1589.2" y="555" fill="#fff" font-size="14.5" font-weight="normal" text-anchor="start" textLength="60.3" lengthAdjust="spacingAndGlyphs">−0.00026</text>
<path d="M1579 560.2h76q2 0 2 2v17.1q0 2 -2 2h-76z" fill="#ff5252"/>
<text x="1589.2" y="576.05" fill="#fff" font-size="14.5" font-weight="normal" text-anchor="start" textLength="60.3" lengthAdjust="spacingAndGlyphs">−0.00057</text>
<path d="M1579 581.3h76q2 0 2 2v16.6q0 2 -2 2h-76z" fill="#2196f3"/>
<text x="1589.2" y="596.9" fill="#fff" font-size="14.5" font-weight="normal" text-anchor="start" textLength="60.3" lengthAdjust="spacingAndGlyphs">−0.00083</text>
<g clip-path="url(#plot)">
<text x="17.5" y="662" fill="#131722" font-size="14.5" font-weight="normal" text-anchor="middle">15</text>
<text x="160.5" y="662" fill="#131722" font-size="14.5" font-weight="bold" text-anchor="middle">Feb</text>
<text x="271.5" y="662" fill="#131722" font-size="14.5" font-weight="normal" text-anchor="middle">15</text>
<text x="392.5" y="662" fill="#131722" font-size="14.5" font-weight="bold" text-anchor="middle">Mar</text>
<text x="502.5" y="662" fill="#131722" font-size="14.5" font-weight="normal" text-anchor="middle">15</text>
<text x="624.5" y="662" fill="#131722" font-size="14.5" font-weight="bold" text-anchor="middle">Apr</text>
<text x="734.5" y="662" fill="#131722" font-size="14.5" font-weight="normal" text-anchor="middle">15</text>
<text x="867.5" y="662" fill="#131722" font-size="14.5" font-weight="bold" text-anchor="middle">May</text>
<text x="977.5" y="662" fill="#131722" font-size="14.5" font-weight="normal" text-anchor="middle">15</text>
<text x="1121.5" y="662" fill="#131722" font-size="14.5" font-weight="bold" text-anchor="middle">Jun</text>
<text x="1231.5" y="662" fill="#131722" font-size="14.5" font-weight="normal" text-anchor="middle">17</text>
<text x="1342.5" y="662" fill="#131722" font-size="14.5" font-weight="bold" text-anchor="middle">Jul</text>
<text x="1452.5" y="662" fill="#131722" font-size="14.5" font-weight="normal" text-anchor="middle">15</text>
</g>
<g fill="#131722"><path d="M13.2 690.1h10.1v11.6h-5.2v-6.7h-4.9z"/><circle cx="26.7" cy="692.2" r="2.25"/><path d="M31.4 690.1h5.8l-4.1 11.6h-5.8z"/></g>
<text x="42.4" y="701.8" fill="#131722" font-size="15.5" font-weight="normal" text-anchor="start" textLength="87" lengthAdjust="spacingAndGlyphs">TradingView</text>
</g>
</svg>
</body></html>
